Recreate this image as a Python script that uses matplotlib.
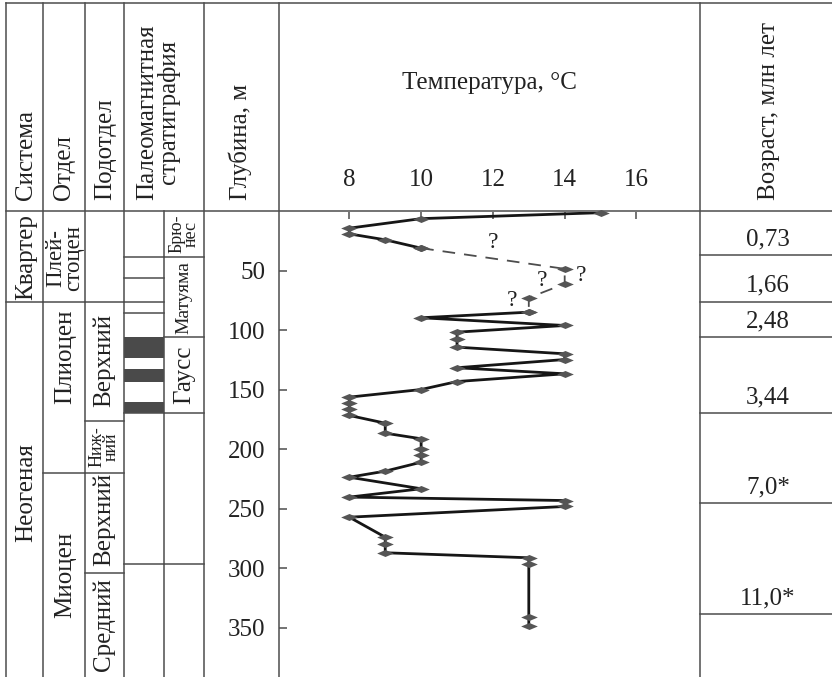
import matplotlib
matplotlib.use("Agg")
import matplotlib.pyplot as plt

plt.rcParams['font.family'] = ['Liberation Serif', 'DejaVu Serif']

# temperature log (depth in m, temperature in degC)
depth_top = [1, 6, 14, 18.8, 23.8, 30.8]
temp_top = [15, 10, 8, 8, 9, 10]
# uncertain interval, drawn dashed
depth_gap = [30.8, 48.2, 60.8, 72.5, 84.6]
temp_gap = [10, 14, 14, 13, 13]
depth_low = [84.6, 89.3, 95.8, 101.4, 107, 114, 119.6, 124.4, 131.3, 136.4,
             142.9, 149.6, 156, 160.8, 165.8, 171.4, 177.9, 186.3, 191, 199.4,
             205, 210.7, 218.2, 223.3, 233, 240, 242.9, 247.9, 256.9, 273.7,
             279.8, 286.8, 291, 296.6, 340.9, 348.5]
temp_low = [13, 10, 14, 11, 11, 11, 14, 14, 11, 14,
            11, 10, 8, 8, 8, 8, 9, 9, 10, 10,
            10, 10, 9, 8, 10, 8, 14, 14, 8, 9,
            9, 9, 13, 13, 13, 13]

# question marks on the dashed part
q_temp = [12.0, 14.45, 13.37, 12.54]
q_depth = [25.8, 53.8, 58.0, 74.8]

temp_ticks = [8, 10, 12, 14, 16]
depth_ticks = [50, 100, 150, 200, 250, 300, 350]

# stratigraphic columns: boundaries (m), names, label depth (m)
system_bounds = [75.8]
system_names = ['Квартер', 'Неогеная']
system_label_depth = [37.9, 236]

series_bounds = [75.8, 219.7]
series_names = ['Плей-\nстоцен', 'Плиоцен', 'Миоцен']
series_label_depth = [39, 122, 305.5]

subseries_bounds = [75.8, 175.8, 219.7, 304]
subseries_names = ['Верхний', 'Ниж-\nний', 'Верхний', 'Средний']
subseries_label_depth = [125.6, 198, 259, 347.5]

polarity_bounds = [38.5, 56.1, 75.8, 85.5, 169.3, 296.5]
polarity_black_top = [105.7, 132.6, 159.8]
polarity_black_bot = [123.4, 143.3, 169.3]

chron_bounds = [38.5, 105.5, 169.3, 296.5]
chron_names = ['Брю-\nнес', 'Матуяма', 'Гаусс']
chron_label_depth = [19, 72, 137]

age_bounds = [36.6, 75.8, 105.5, 169.3, 245.0, 338.2]
age_labels = ['0,73', '1,66', '2,48', '3,44', '7,0*', '11,0*']

LC = '#4d4d4d'
TC = '#222222'
FS = 18

fig = plt.figure(figsize=(8.32, 6.77), dpi=100)

# background table: x in pixels, y in depth (same scale as the plot)
ax0 = fig.add_axes([0, 0, 1, 1])
ax0.set_xlim(0, 832)
ax0.set_ylim(391.2, -177.7)
ax0.axis('off')

col = [6, 43, 85, 124, 164, 204, 279, 700, 832]
y_top, y_bot = -175.2, 391.2

for x in [6, 43, 85, 124, 204, 279, 700]:
    ax0.plot([x, x], [y_top, y_bot], color=LC, lw=1.1)
ax0.plot([164, 164], [0, y_bot], color=LC, lw=1.1)
ax0.plot([6, 832], [y_top, y_top], color=LC, lw=1.1)
ax0.plot([6, 832], [0, 0], color=LC, lw=1.1)


def hlines(bounds, x0, x1):
    for b in bounds:
        ax0.plot([x0, x1], [b, b], color=LC, lw=1.1)


hlines(system_bounds, col[0], col[1])
hlines(series_bounds, col[1], col[2])
hlines(subseries_bounds, col[2], col[3])
hlines(polarity_bounds, col[3], col[4])
hlines(chron_bounds, col[4], col[5])
hlines(age_bounds, col[7], col[8])

for t, b in zip(polarity_black_top, polarity_black_bot):
    ax0.fill_between([col[3], col[4]], t, b, color='#4a4a4a', lw=0)

# header titles
head_y = -9.7
for x, s in [(26, 'Система'), (64, 'Отдел'), (105, 'Подотдел'),
             (158, 'Палеомагнитная\nстратиграфия'), (240, 'Глубина, м'),
             (769, 'Возраст, млн лет')]:
    ax0.text(x, head_y, s, rotation=90, ha='center', va='bottom',
             fontsize=FS, color=TC, linespacing=0.9)

for s, d in zip(system_names, system_label_depth):
    ax0.text(26, d, s, rotation=90, ha='center', va='center', fontsize=FS, color=TC)
for s, d in zip(series_names, series_label_depth):
    fs = 16.5 if '\n' in s else FS
    ax0.text(65, d, s, rotation=90, ha='center', va='center', fontsize=fs,
             color=TC, linespacing=0.8)
for s, d in zip(subseries_names, subseries_label_depth):
    fs = 13 if '\n' in s else FS
    ax0.text(104, d, s, rotation=90, ha='center', va='center', fontsize=fs,
             color=TC, linespacing=0.8)
for s, d in zip(chron_names, chron_label_depth):
    fs = {'Брю-\nнес': 13, 'Матуяма': 14}.get(s, FS)
    ax0.text(184, d, s, rotation=90, ha='center', va='center', fontsize=fs,
             color=TC, linespacing=0.8)
for s, b in zip(age_labels, age_bounds):
    ax0.text(768, b - 13.4, s, ha='center', va='center', fontsize=FS, color=TC)

# temperature plot
ax = fig.add_axes([279 / 832, 0, 421 / 832, 465.5 / 677])
ax.set_facecolor('none')
ax.set_xlim(6.04, 17.77)
ax.set_ylim(391.2, 0)
for sp in ax.spines.values():
    sp.set_visible(False)

ax.plot(temp_top, depth_top, color='#161616', lw=2.0, solid_joinstyle='miter')
ax.plot(temp_gap, depth_gap, color=LC, lw=1.3, ls=(0, (7, 5)))
ax.plot(temp_low, depth_low, color='#161616', lw=2.0, solid_joinstyle='miter')

diamond = [(-1, 0), (0, 0.42), (1, 0), (0, -0.42)]
ax.plot(temp_top + temp_gap + temp_low, depth_top + depth_gap + depth_low,
        ls='none', marker=diamond, ms=12, color='#555555', mew=0, clip_on=False)

for t, d in zip(q_temp, q_depth):
    ax.text(t, d, '?', ha='center', va='center', fontsize=17, color=TC)

ax.xaxis.tick_top()
ax.xaxis.set_label_position('top')
ax.set_xticks(temp_ticks)
ax.set_yticks(depth_ticks)
ax.tick_params(axis='x', direction='in', length=5, width=1.1, color=LC,
               pad=15, labelsize=FS, labelcolor=TC)
ax.tick_params(axis='y', direction='in', length=6, width=1.1, color=LC,
               pad=10, labelsize=FS, labelcolor=TC)
ax.set_xlabel('Температура, °C', fontsize=FS, color=TC, labelpad=57)

fig.savefig('out.png', dpi=100)
